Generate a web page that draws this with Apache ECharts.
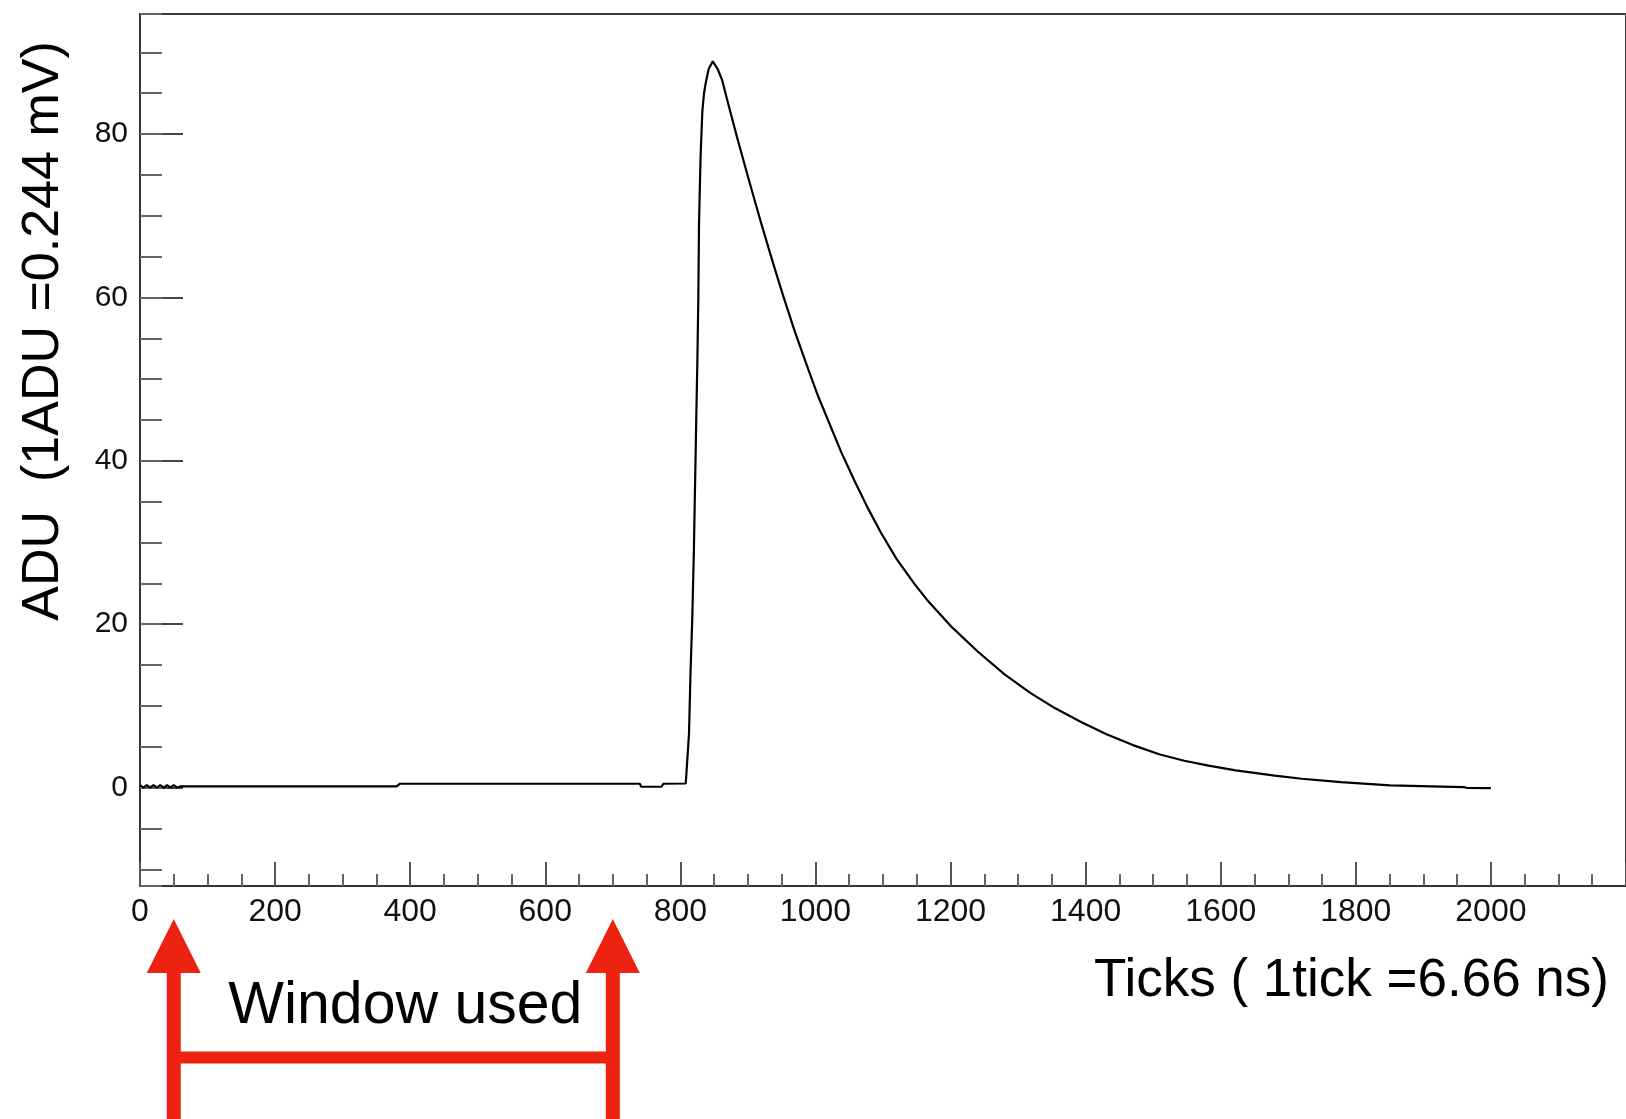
<!DOCTYPE html>
<html>
<head>
<meta charset="utf-8">
<script src="https://cdn.jsdelivr.net/npm/echarts@6/dist/echarts.min.js"></script>
<style>
  html, body { margin: 0; padding: 0; background: #ffffff; }
  #chart { width: 1626px; height: 1119px; }
</style>
</head>
<body>
<div id="chart"></div>
<script>
// ---- data ----
const sampleTicks = [0,5,10,15,20,25,30,35,40,45,50,55,60,380,385,740,742,772,775,808,810,
  812.8,815,817.7,820,821.7,823.5,825.2,826.6,827.6,829,830,
  832.5,835,837.4,842,848,855,861.9,869,876.6,884,891.3,
  900,911,920,930.4,941,952.6,970,989,1004,1018.5,
  1038,1057.6,1077,1097,1120,1146,1165,1200,1241,1280,
  1318,1355,1394,1430,1470,1510,1546,1582,1622,1680,
  1720,1778,1851,1927,1960,1965,2000];
const adcValues = [0.3,0.0,0.3,0.0,0.3,0.0,0.3,0.0,0.3,0.0,0.3,0.0,0.15,0.15,0.47,0.47,0.1,0.1,0.47,0.5,0.7,
  6.6,14,20.9,29,36.8,45,52.3,60,69,74,77.4,
  82.7,85,86.2,88,88.9,88,86.6,84.3,81.9,79.6,77.4,
  74.8,71.6,69.0,66.1,63.2,60.1,55.7,51.3,47.9,45.0,
  41.1,37.6,34.3,31.2,28.0,25.0,23.0,19.8,16.6,13.85,
  11.6,9.7,8.0,6.55,5.2,4.05,3.28,2.68,2.1,1.46,
  1.08,0.66,0.27,0.12,0.06,-0.05,-0.06];
const xTickLabels = [0,200,400,600,800,1000,1200,1400,1600,1800,2000];
const yTickLabels = [0,20,40,60,80];
const windowUsed = [50, 700];
const xTitle = 'Ticks ( 1tick =6.66 ns)';
const yTitle = 'ADU  (1ADU =0.244 mV)';
const windowLabel = 'Window used';

const FONT = '"Liberation Sans", Arial, Helvetica, sans-serif';
const seriesData = sampleTicks.map((t, i) => [t, adcValues[i]]);

const chart = echarts.init(document.getElementById('chart'), null, { renderer: 'canvas' });

const option = {
  backgroundColor: '#ffffff',
  animation: false,
  grid: {
    left: 140, top: 14, right: -12, bottom: 233,
    show: true, borderColor: '#3a3a3a', borderWidth: 2, backgroundColor: 'transparent'
  },
  xAxis: [{
    type: 'value', min: 0, max: 2200, interval: 200,
    position: 'bottom',
    axisLine: { show: true, onZero: false, lineStyle: { color: '#333', width: 2 } },
    axisTick: { show: true, inside: true, length: 24, lineStyle: { color: '#555', width: 2 } },
    minorTick: { show: true, splitNumber: 4, length: 12, lineStyle: { color: '#666', width: 2 } },
    splitLine: { show: false },
    axisLabel: {
      show: true, margin: 10, color: '#111', fontSize: 32, fontFamily: FONT,
      showMaxLabel: false,
      formatter: v => xTickLabels.indexOf(v) >= 0 ? String(v) : ''
    }
  }],
  yAxis: [{
    type: 'value', min: -12.05, max: 94.7, splitNumber: 5,
    position: 'left',
    axisLine: { show: true, onZero: false, lineStyle: { color: '#333', width: 2 } },
    axisTick: { show: true, inside: true, length: 43, lineStyle: { color: '#444', width: 2 } },
    splitLine: { show: false },
    axisLabel: {
      show: true, margin: 12, color: '#111', fontSize: 30, fontFamily: FONT,
      showMinLabel: false, showMaxLabel: false,
      formatter: v => yTickLabels.indexOf(v) >= 0 ? String(v) : ''
    }
  }, {
    type: 'value', min: -12.05, max: 94.7, splitNumber: 21,
    position: 'left', offset: 0,
    axisLine: { show: false },
    axisTick: { show: true, inside: true, length: 22, lineStyle: { color: '#666', width: 2 } },
    splitLine: { show: false },
    axisLabel: { show: false }
  }],
  series: [{
    type: 'line',
    xAxisIndex: 0, yAxisIndex: 0,
    data: seriesData,
    showSymbol: false, symbol: 'none',
    lineStyle: { color: '#000', width: 2.2 },
    silent: true
  }]
};
chart.setOption(option);

// annotations placed from the axis scale
const xl = chart.convertToPixel({ xAxisIndex: 0 }, windowUsed[0]);
const xr = chart.convertToPixel({ xAxisIndex: 0 }, windowUsed[1]);
const RED = '#ee2211';
const shaftW = 14, headHalf = 27, tipY = 919, baseY = 973, barY = 1051.5, barH = 12;
function arrow(x) {
  return [
    { type: 'polygon', shape: { points: [[x, tipY], [x - headHalf, baseY], [x + headHalf, baseY]] }, style: { fill: RED } },
    { type: 'rect', shape: { x: x - shaftW / 2, y: baseY - 1, width: shaftW, height: 1119 - baseY + 1 }, style: { fill: RED } }
  ];
}
chart.setOption({
  graphic: [
    ...arrow(xl), ...arrow(xr),
    { type: 'rect', shape: { x: xl, y: barY, width: xr - xl, height: barH }, style: { fill: RED } },
    { type: 'text', x: (xl + xr) / 2 + 12, y: 1007, style: { text: windowLabel, font: '59px ' + FONT, fill: '#000', textAlign: 'center', textVerticalAlign: 'middle' } },
    { type: 'text', x: 1609, y: 981, style: { text: xTitle, font: '53px ' + FONT, fill: '#000', textAlign: 'right', textVerticalAlign: 'middle' } },
    { type: 'text', x: 44, y: 331, rotation: Math.PI / 2, style: { text: yTitle, font: '52px ' + FONT, fill: '#000', textAlign: 'center', textVerticalAlign: 'middle' } }
  ]
});
</script>
</body>
</html>
